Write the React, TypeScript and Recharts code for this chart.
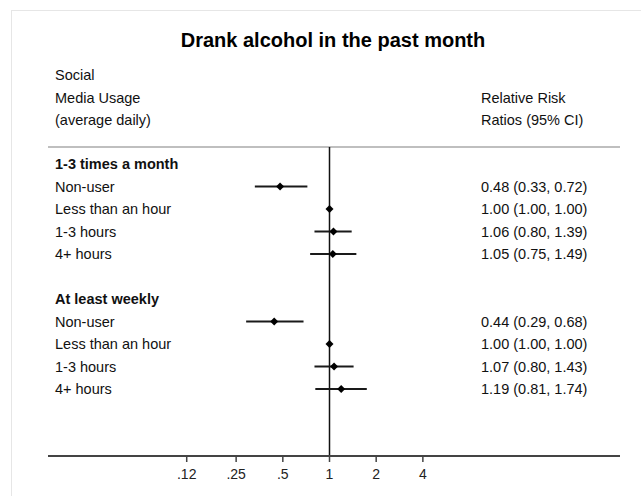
import React from 'react';
import { ScatterChart, Scatter, XAxis, YAxis, ReferenceLine } from 'recharts';

const TITLE = 'Drank alcohol in the past month';
const LEFT_HEADER = ['Social', 'Media Usage', '(average daily)'];
const RIGHT_HEADER = ['Relative Risk', 'Ratios (95% CI)'];

const groups = ['1-3 times a month', 'At least weekly'];
const usage = ['Non-user', 'Less than an hour', '1-3 hours', '4+ hours'];

// relative risk ratios + 95% CI, 1-3 times a month
const monthlyRR = [0.48, 1.0, 1.06, 1.05];
const monthlyLow = [0.33, 1.0, 0.8, 0.75];
const monthlyHigh = [0.72, 1.0, 1.39, 1.49];

// at least weekly
const weeklyRR = [0.44, 1.0, 1.07, 1.19];
const weeklyLow = [0.29, 1.0, 0.8, 0.81];
const weeklyHigh = [0.68, 1.0, 1.43, 1.74];

const xTicks = [0.12, 0.25, 0.5, 1, 2, 4];

const FONT = 'Arial, "Liberation Sans", Helvetica, sans-serif';
const W = 641;
const H = 496;
const LABEL_X = 55;
const RR_X = 481;

type Row = { row: number; label: string; bold?: boolean; rr?: number; lo?: number; hi?: number };

const fmt = (v: number) => v.toFixed(2);

const rows: Row[] = [];
rows.push({ row: 0, label: groups[0], bold: true });
usage.forEach((u, i) => rows.push({ row: 1 + i, label: u, rr: monthlyRR[i], lo: monthlyLow[i], hi: monthlyHigh[i] }));
rows.push({ row: 5, label: '' });
rows.push({ row: 6, label: groups[1], bold: true });
usage.forEach((u, i) => rows.push({ row: 7 + i, label: u, rr: weeklyRR[i], lo: weeklyLow[i], hi: weeklyHigh[i] }));

const points = rows.filter((r) => r.rr !== undefined).map((r) => ({ x: r.rr, y: r.row }));

const Diamond = (props: any) => {
  const { cx, cy } = props;
  const r = 4;
  return <polygon points={`${cx},${cy - r} ${cx + r},${cy} ${cx},${cy + r} ${cx - r},${cy}`} fill="#000" />;
};

const RowTick = (props: any) => {
  const { y, payload } = props;
  const r = rows.find((d) => d.row === payload.value);
  if (!r) return null;
  return (
    <g>
      <text x={LABEL_X} y={y} dy="0.36em" fontSize={14.5} fontFamily={FONT} fontWeight={r.bold ? 'bold' : 'normal'} fill="#111" textAnchor="start">
        {r.label}
      </text>
      {r.rr !== undefined && (
        <text x={RR_X} y={y} dy="0.36em" fontSize={14.5} fontFamily={FONT} fill="#111" textAnchor="start">
          {`${fmt(r.rr)} (${fmt(r.lo as number)}, ${fmt(r.hi as number)})`}
        </text>
      )}
    </g>
  );
};

export default function App() {
  return (
    <div style={{ position: 'absolute', left: 0, top: 0, width: W, height: H, overflow: 'hidden', background: '#fff' }}>
      <svg width={W} height={H} style={{ position: 'absolute', left: 0, top: 0 }}>
        <rect x={11.5} y={10.5} width={700} height={600} fill="none" stroke="#e6e6e6" />
        <text x={333} y={47} textAnchor="middle" fontSize={20} fontWeight="bold" fontFamily={FONT} fill="#000">
          {TITLE}
        </text>
        {LEFT_HEADER.map((t, i) => (
          <text key={t} x={LABEL_X} y={80 + i * 22.5} fontSize={14.5} fontFamily={FONT} fill="#111">
            {t}
          </text>
        ))}
        {RIGHT_HEADER.map((t, i) => (
          <text key={t} x={RR_X} y={102.5 + i * 22.5} fontSize={14.5} fontFamily={FONT} fill="#111">
            {t}
          </text>
        ))}
      </svg>
      <div style={{ position: 'absolute', left: 0, top: 0 }}>
        <ScatterChart width={W} height={H} margin={{ top: 147, right: 21, bottom: 10, left: 47 }}>
          <XAxis
            dataKey="x"
            type="number"
            scale="log"
            domain={[0.0153, 74.7]}
            allowDataOverflow
            ticks={xTicks}
            tickFormatter={(v: number) => (v < 1 ? String(v).replace(/^0/, '') : String(v))}
            height={30}
            axisLine={{ stroke: '#444', strokeWidth: 2 }}
            tickLine={{ stroke: '#444', strokeWidth: 1.5 }}
            tickSize={6}
            tickMargin={7}
            tick={{ fontSize: 14, fontFamily: FONT, fill: '#222' }}
            interval={0}
          />
          <YAxis
            dataKey="y"
            type="number"
            reversed
            domain={[-0.756, 12.98]}
            allowDataOverflow
            ticks={rows.map((r) => r.row)}
            interval={0}
            width={1}
            axisLine={false}
            tickLine={false}
            tick={<RowTick />}
          />
          <ReferenceLine y={-0.756} stroke="#aaa" strokeWidth={1.5} ifOverflow="visible" />
          <ReferenceLine x={1} stroke="#111" strokeWidth={1.5} ifOverflow="visible" />
          {rows
            .filter((r) => r.rr !== undefined)
            .map((r) => (
              <ReferenceLine
                key={`ci-${r.row}`}
                segment={[
                  { x: r.lo, y: r.row },
                  { x: r.hi, y: r.row },
                ]}
                stroke="#1a1a1a"
                strokeWidth={2}
                ifOverflow="visible"
              />
            ))}
          <Scatter data={points} shape={<Diamond />} isAnimationActive={false} />
        </ScatterChart>
      </div>
    </div>
  );
}
